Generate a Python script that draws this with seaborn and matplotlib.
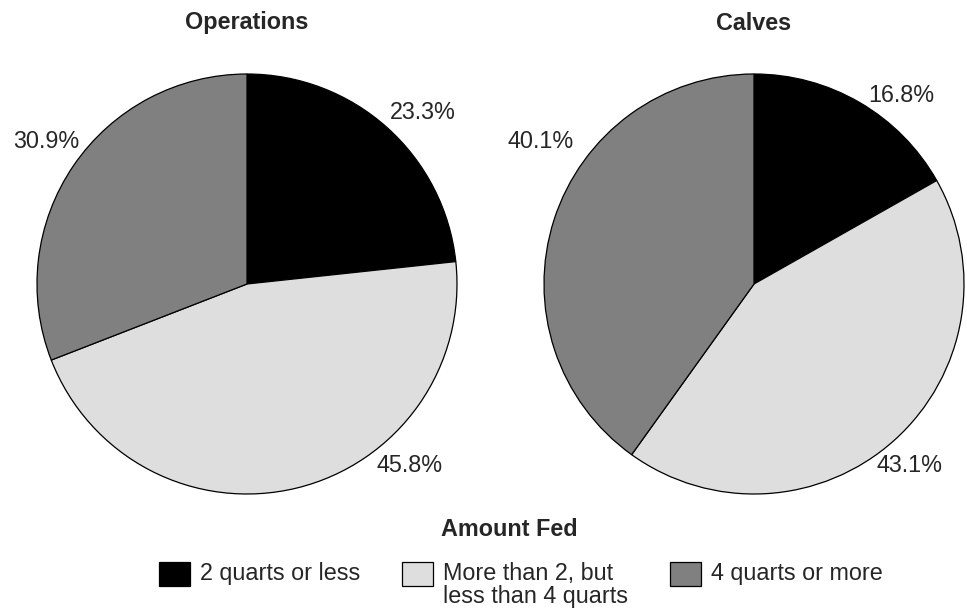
import numpy as np
import matplotlib
matplotlib.use("Agg")
import matplotlib.pyplot as plt
from matplotlib.patches import Patch
import seaborn as sns

sns.set_style("white")
plt.rcParams['font.family'] = ['Liberation Sans', 'DejaVu Sans']

# data
categories = ['2 quarts or less', 'More than 2, but\nless than 4 quarts', '4 quarts or more']
operations = [23.3, 45.8, 30.9]
calves = [16.8, 43.1, 40.1]
panel_titles = ['Operations', 'Calves']
legend_title = 'Amount Fed'

colors = ['#000000', '#dedede', '#808080']
# where each percent label sits (angle in degrees, distance in radii)
label_spots = [
    [(44.3, 1.17), (-48.2, 1.16), (144.6, 1.17)],
    [(52.0, 1.14), (-49.4, 1.14), (146.3, 1.22)],
]
fs = 16.8

fig = plt.figure(figsize=(9.67, 6.09), dpi=100)
W, H = 967, 609
R = 210
lim = 1.15
size = 2 * lim * R
centers = [(247, 284), (754, 284)]

for i, vals in enumerate([operations, calves]):
    cx, cy = centers[i]
    ax = fig.add_axes([(cx - size / 2) / W, (H - cy - size / 2) / H, size / W, size / H])
    ax.pie(vals, colors=colors, startangle=90, counterclock=False, radius=1,
           wedgeprops=dict(edgecolor='black', linewidth=0.9))
    for v, (ang, dist) in zip(vals, label_spots[i]):
        a = np.deg2rad(ang)
        ax.text(dist * np.cos(a), dist * np.sin(a), f'{v:.1f}%',
                ha='center', va='center', fontsize=fs)
    ax.set_xlim(-lim, lim)
    ax.set_ylim(-lim, lim)
    ax.set_aspect('equal')
    ax.axis('off')
    fig.text(cx / W, 1 - 23 / H, panel_titles[i], ha='center', va='center',
             fontsize=fs, fontweight='bold')

fig.text(509 / W, 1 - 530 / H, legend_title, ha='center', va='center',
         fontsize=fs, fontweight='bold')

handles = [Patch(facecolor=c, edgecolor='black', linewidth=0.9) for c in colors]
leg = fig.legend(handles, categories, loc='upper center', bbox_to_anchor=(0.5388, 1 - 550 / H),
                 ncol=3, frameon=False, fontsize=fs,
                 handlelength=1.33, handleheight=1.2, handletextpad=0.43,
                 columnspacing=1.8, borderpad=0)
# keep the boxes on the first line of the two-line label
leg._legend_handle_box.align = 'top'
for col in leg._legend_handle_box.get_children():
    col.align = 'left'
    for item in col.get_children():
        item.align = 'top'
for t in leg.get_texts():
    t.set_linespacing(1.0)

fig.savefig('out.png', dpi=100)
